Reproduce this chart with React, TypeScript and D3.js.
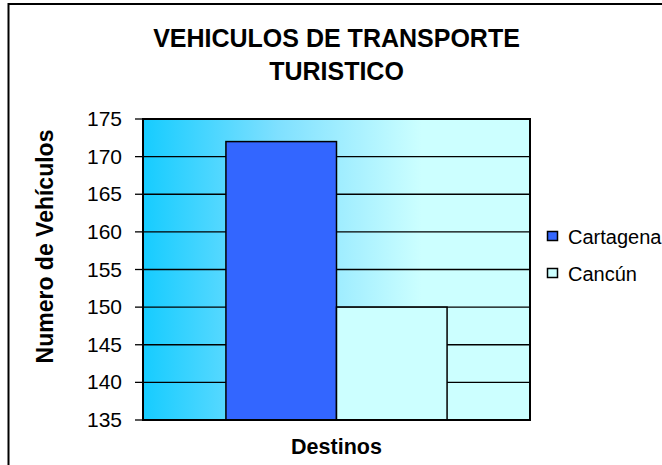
import * as d3 from "d3";
import React from "react";

// data
const titleLines = ["VEHICULOS DE TRANSPORTE", "TURISTICO"];
const series = ["Cartagena", "Cancún"];
const values = [172, 150];
const seriesColors = ["#3366ff", "#ccffff"];
const yTicks = [135, 140, 145, 150, 155, 160, 165, 170, 175];
const yLabel = "Numero de Vehículos";
const xLabel = "Destinos";

const W = 662;
const H = 465;
const plot = { left: 143, right: 530, top: 119, bottom: 420 };

export default function App() {
  const y = d3.scaleLinear().domain([135, 175]).range([plot.bottom, plot.top]);
  const x = d3
    .scaleBand<string>()
    .domain(series)
    .range([plot.left, plot.right])
    .paddingInner(0)
    .paddingOuter(0.75);

  const font = "Arial, 'Liberation Sans', sans-serif";
  const cx = (plot.left + plot.right) / 2;

  return (
    <svg
      width={W}
      height={H}
      style={{ position: "absolute", left: 0, top: 0, background: "#fff" }}
      fontFamily={font}
    >
      <defs>
        <linearGradient id="bg" x1="0" x2="1" y1="0" y2="0">
          <stop offset="0" stopColor="#16ccff" />
          <stop offset="0.35" stopColor="#7fe0ff" />
          <stop offset="0.72" stopColor="#ccffff" />
          <stop offset="1" stopColor="#ccffff" />
        </linearGradient>
      </defs>

      {/* outer chart border (right/bottom fall outside) */}
      <rect x={8.5} y={4} width={800} height={600} fill="none" stroke="#000" strokeWidth={2} />

      {/* title */}
      {titleLines.map((t, i) => (
        <text
          key={t}
          x={cx}
          y={47 + i * 33}
          textAnchor="middle"
          fontSize={25}
          fontWeight="bold"
        >
          {t}
        </text>
      ))}

      {/* plot background */}
      <rect
        x={plot.left}
        y={plot.top}
        width={plot.right - plot.left}
        height={plot.bottom - plot.top}
        fill="url(#bg)"
      />

      {/* gridlines */}
      {yTicks
        .filter((t) => t > 135 && t < 175)
        .map((t) => (
          <line
            key={t}
            x1={plot.left}
            x2={plot.right}
            y1={y(t)}
            y2={y(t)}
            stroke="#000"
            strokeWidth={1.3}
          />
        ))}

      {/* bars */}
      {series.map((s, i) => (
        <rect
          key={s}
          x={x(s)}
          y={y(values[i])}
          width={x.bandwidth()}
          height={plot.bottom - y(values[i])}
          fill={seriesColors[i]}
          stroke="#000"
          strokeWidth={1.5}
        />
      ))}

      {/* plot border */}
      <rect
        x={plot.left}
        y={plot.top}
        width={plot.right - plot.left}
        height={plot.bottom - plot.top}
        fill="none"
        stroke="#000"
        strokeWidth={2}
      />

      {/* y axis ticks */}
      {yTicks.map((t) => (
        <g key={t}>
          <line x1={plot.left - 8} x2={plot.left} y1={y(t)} y2={y(t)} stroke="#000" strokeWidth={1.3} />
          <text x={122} y={y(t) + 7} textAnchor="end" fontSize={21}>
            {t}
          </text>
        </g>
      ))}

      {/* axis titles */}
      <text
        transform={`translate(53,${(plot.top + plot.bottom) / 2 - 23}) rotate(-90)`}
        textAnchor="middle"
        fontSize={23}
        fontWeight="bold"
      >
        {yLabel}
      </text>
      <text x={cx} y={454} textAnchor="middle" fontSize={21.5} fontWeight="bold">
        {xLabel}
      </text>

      {/* legend */}
      {series.map((s, i) => (
        <g key={s} transform={`translate(547,${231 + i * 37})`}>
          <rect x={0.5} y={0.5} width={10} height={9} fill={seriesColors[i]} stroke="#000" strokeWidth={1.5} />
          <text x={21} y={13} fontSize={20}>
            {s}
          </text>
        </g>
      ))}
    </svg>
  );
}
